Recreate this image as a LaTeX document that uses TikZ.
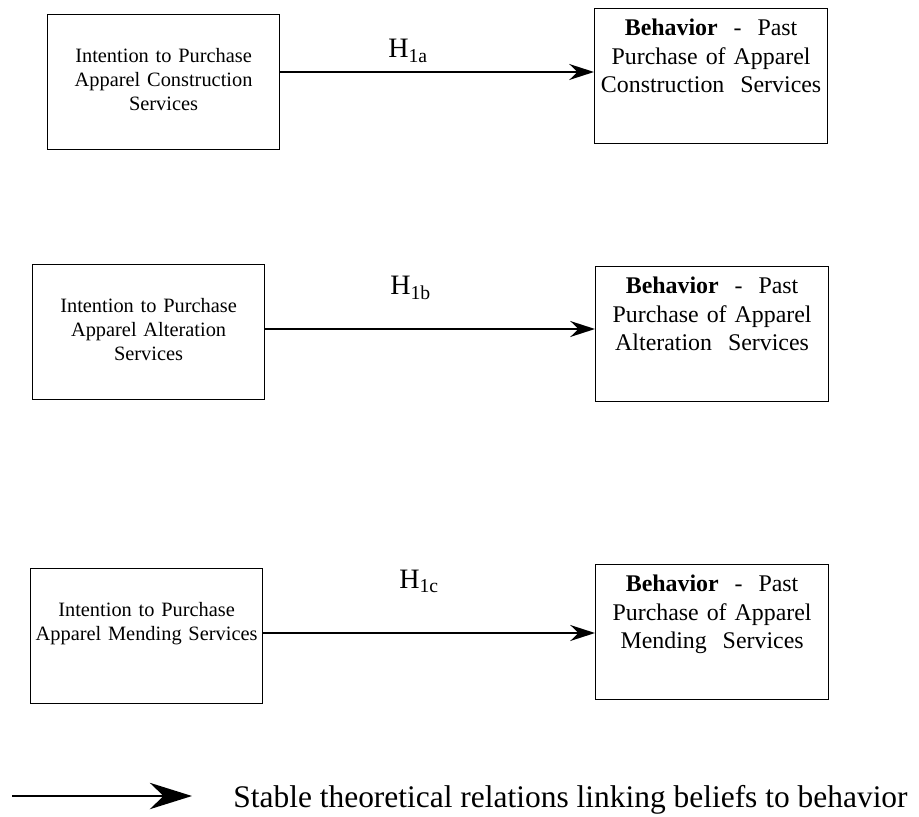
\documentclass[tikz,border=0pt]{standalone}
\usepackage{fontspec}
\setmainfont{Liberation Serif}
\usetikzlibrary{arrows.meta}

\begin{document}
\begin{tikzpicture}[x = 0.02cm, y = -0.02cm,
		intBox/.style = {draw, line width = 0.7pt, anchor = north west, inner sep = 0pt, align = center,
			text width = 4.64cm, text height = 0.96cm, text depth = 1.74cm,
			font = \fontsize{11.6}{13.6}\selectfont},
		behBox/.style = {draw, line width = 0.7pt, anchor = north west, inner sep = 0pt, align = center,
			text width = 4.66cm, text height = 0.54cm, text depth = 2.16cm,
			font = \fontsize{13.6}{16.2}\selectfont},
		hypLabel/.style = {anchor = base west, inner sep = 0pt, font = \fontsize{16}{19}\selectfont},
		relArrow/.style = {line width = 1.6pt, -{Stealth[length = 14pt, width = 9pt]}}]
		\useasboundingbox (0,0) rectangle (919,817);
	
		% intentions
		\node[intBox] (int1) at (47,14) {Intention to Purchase\\Apparel Construction\\Services};
		\node[intBox] (int2) at (32,264) {Intention to Purchase\\Apparel Alteration\\Services};
		\node[intBox] (int3) at (30,568) {Intention to Purchase\\Apparel Mending Services};
	
		% behaviors
		\node[behBox] (beh1) at (594,8) {\textbf{Behavior}~~-~~Past\\Purchase of Apparel\\Construction~~Services};
		\node[behBox] (beh2) at (595,266) {\textbf{Behavior}~~-~~Past\\Purchase of Apparel\\Alteration~~Services};
		\node[behBox] (beh3) at (595,564) {\textbf{Behavior}~~-~~Past\\Purchase of Apparel\\Mending~~Services};
	
		\draw[relArrow] (int1.east |- 0,72) -- (beh1.west |- 0,72);
		\draw[relArrow] (int2.east |- 0,329) -- (beh2.west |- 0,329);
		\draw[relArrow] (int3.east |- 0,633) -- (beh3.west |- 0,633);
	
		\node[hypLabel] (h1a) at (388,58) {H\textsubscript{1a}};
		\node[hypLabel] (h1b) at (390,295) {H\textsubscript{1b}};
		\node[hypLabel] (h1c) at (399,588) {H\textsubscript{1c}};
	
		% legend
		\coordinate (legTail) at (12,796);
		\coordinate (legTip) at (192,796);
		\draw[line width = 1.1pt, -{Stealth[length = 24pt, width = 15pt]}] (legTail) -- (legTip);
		\node[anchor = base west, inner sep = 0pt, font = \fontsize{17.9}{22}\selectfont] (legText) at (233,807) {Stable theoretical relations linking beliefs to behavior};
	\end{tikzpicture}
\end{document}
